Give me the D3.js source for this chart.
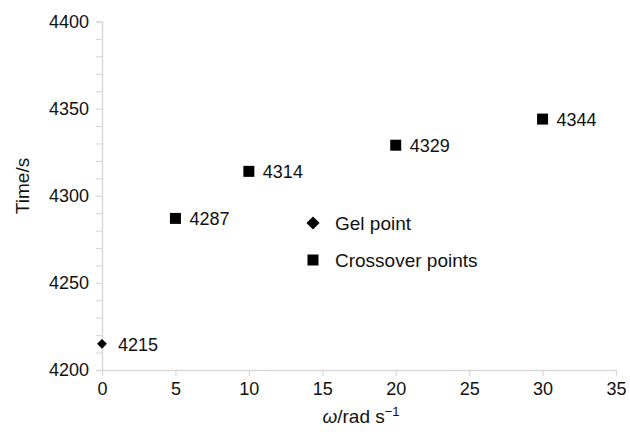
<!DOCTYPE html>
<html>
<head>
<meta charset="utf-8">
<script src="https://cdnjs.cloudflare.com/ajax/libs/d3/7.8.5/d3.min.js"></script>
<style>
  body { margin: 0; background: #fff; }
  svg text { font-family: "Liberation Sans", Arial, sans-serif; fill: #111; }
</style>
</head>
<body>
<div id="chart"></div>
<script>
// data
const gelX = [0];
const gelY = [4215];
const crossX = [5, 10, 20, 30];
const crossY = [4287, 4314, 4329, 4344];
const xTicks = [0, 5, 10, 15, 20, 25, 30, 35];
const yTicks = [4200, 4250, 4300, 4350, 4400];
const legendItems = ["Gel point", "Crossover points"];

const width = 630, height = 434;

const svg = d3.select("#chart").append("svg")
    .attr("width", width)
    .attr("height", height);

const x = d3.scaleLinear().domain([0, 35]).range([102, 616]);
const y = d3.scaleLinear().domain([4200, 4400]).range([370, 21.5]);

const axisColor = "#d9d9d9";

// y axis, minor ticks every 10
const yAxis = svg.append("g")
    .attr("transform", `translate(${x(0)},0)`)
    .call(d3.axisLeft(y).tickValues(d3.range(4200, 4401, 10)).tickSize(6)
        .tickFormat(d => yTicks.includes(d) ? d : ""));
yAxis.select(".domain").attr("stroke", axisColor).attr("stroke-width", 1.5);
yAxis.selectAll(".tick line").attr("stroke", axisColor).attr("stroke-width", 1.2);
yAxis.selectAll(".tick text").attr("font-size", 18).attr("x", -13).attr("fill", "#111");

// x axis
const xAxis = svg.append("g")
    .attr("transform", `translate(0,${y(4200)})`)
    .call(d3.axisBottom(x).tickValues(xTicks).tickSize(6).tickSizeOuter(0));
xAxis.select(".domain").attr("stroke", axisColor).attr("stroke-width", 1.5);
xAxis.selectAll(".tick line").attr("stroke", axisColor).attr("stroke-width", 1.2);
xAxis.selectAll(".tick text").attr("font-size", 18).attr("y", 12).attr("fill", "#111");

// titles
svg.append("text")
    .attr("transform", `translate(29,186) rotate(-90)`)
    .attr("text-anchor", "middle")
    .attr("font-size", 19)
    .text("Time/s");

const xt = svg.append("text")
    .attr("x", 361)
    .attr("y", 423)
    .attr("text-anchor", "middle")
    .attr("font-size", 19);
xt.append("tspan").attr("font-style", "italic").text("ω");
xt.append("tspan").text("/rad s");
xt.append("tspan").attr("dy", -7).attr("font-size", 13).text("−1");

const diamond = d3.symbol().type(d3.symbolDiamond2).size(62);
const bigDiamond = d3.symbol().type(d3.symbolDiamond2).size(110);
const square = d3.symbol().type(d3.symbolSquare).size(121);

// gel point
svg.selectAll(".gel").data(gelX).join("path")
    .attr("class", "gel")
    .attr("d", diamond)
    .attr("transform", (d, i) => `translate(${x(d)},${y(gelY[i])})`)
    .attr("fill", "#000");
svg.selectAll(".gel-label").data(gelX).join("text")
    .attr("x", d => x(d) + 16)
    .attr("y", (d, i) => y(gelY[i]) + 7)
    .attr("font-size", 18)
    .text((d, i) => gelY[i]);

// crossover points
svg.selectAll(".cross").data(crossX).join("path")
    .attr("class", "cross")
    .attr("d", square)
    .attr("transform", (d, i) => `translate(${x(d)},${y(crossY[i])})`)
    .attr("fill", "#000");
svg.selectAll(".cross-label").data(crossX).join("text")
    .attr("x", d => x(d) + 14)
    .attr("y", (d, i) => y(crossY[i]) + 7)
    .attr("font-size", 18)
    .text((d, i) => crossY[i]);

// legend
const legend = svg.selectAll(".legend").data(legendItems).join("g")
    .attr("class", "legend")
    .attr("transform", (d, i) => `translate(313,${223 + i * 37})`);
legend.append("path")
    .attr("d", (d, i) => i === 0 ? bigDiamond() : square())
    .attr("fill", "#000");
legend.append("text")
    .attr("x", 22)
    .attr("y", 7)
    .attr("font-size", 19)
    .text(d => d);
</script>
</body>
</html>
